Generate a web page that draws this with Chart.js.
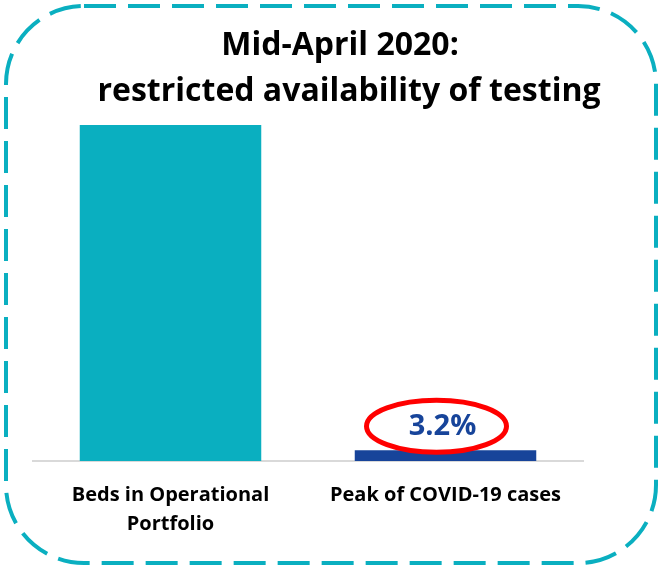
<!DOCTYPE html>
<html>
<head>
<meta charset="utf-8">
<script src="https://cdn.jsdelivr.net/npm/chart.js@4/dist/chart.umd.min.js"></script>
<style>
  html, body { margin: 0; padding: 0; background: #fff; }
  #wrap { width: 661px; height: 568px; position: relative; }
</style>
</head>
<body>
<div id="wrap"><canvas id="chart"></canvas></div>
<script>
// data
const categories = [['Beds in Operational', 'Portfolio'], 'Peak of COVID-19 cases'];
const values = [100, 3.2];
const valueLabels = ['', '3.2%'];
const titleLines = ['Mid-April 2020:', 'restricted availability of testing'];

const TEAL = '#0AAFC0';
const NAVY = '#17449A';
const FONT = "'Open Sans', 'Lato', sans-serif";

// dashed rounded frame + title
const framePlugin = {
    id: 'frame',
    beforeDraw(chart) {
        const ctx = chart.ctx;
        const x0 = 6, y0 = 6, x1 = 656, y1 = 563, r = 78;
        ctx.save();
        ctx.strokeStyle = TEAL;
        ctx.lineWidth = 4;
        ctx.setLineDash([32, 12]);
        ctx.beginPath();
        ctx.moveTo(x0 + r, y0);
        ctx.lineTo(x1 - r, y0);
        ctx.arcTo(x1, y0, x1, y0 + r, r);
        ctx.lineTo(x1, y1 - r);
        ctx.arcTo(x1, y1, x1 - r, y1, r);
        ctx.lineTo(x0 + r, y1);
        ctx.arcTo(x0, y1, x0, y1 - r, r);
        ctx.lineTo(x0, y0 + r);
        ctx.arcTo(x0, y0, x0 + r, y0, r);
        ctx.closePath();
        ctx.stroke();

        ctx.setLineDash([]);
        ctx.fillStyle = '#000';
        ctx.font = 'bold 32px ' + FONT;
        ctx.textAlign = 'center';
        ctx.textBaseline = 'middle';
        ctx.fillText(titleLines[0], 340, 46);
        ctx.fillText(titleLines[1], 349, 92);
        ctx.restore();
    }
};

// value label with red ellipse
const calloutPlugin = {
    id: 'callout',
    afterDatasetsDraw(chart) {
        const ctx = chart.ctx;
        const meta = chart.getDatasetMeta(0);
        meta.data.forEach((bar, i) => {
            if (!valueLabels[i]) return;
            const cy = bar.y - 24;
            ctx.save();
            ctx.fillStyle = NAVY;
            ctx.font = 'bold 29px ' + FONT;
            ctx.textAlign = 'center';
            ctx.textBaseline = 'middle';
            ctx.fillText(valueLabels[i], bar.x - 3, cy);
            ctx.strokeStyle = '#FF0000';
            ctx.lineWidth = 5;
            ctx.beginPath();
            ctx.ellipse(bar.x - 9, cy, 70, 26, 0, 0, Math.PI * 2);
            ctx.stroke();
            ctx.restore();
        });
    }
};

new Chart(document.getElementById('chart'), {
    type: 'bar',
    data: {
        labels: categories,
        datasets: [{
            data: values,
            backgroundColor: [TEAL, NAVY],
            borderWidth: 0,
            barPercentage: 0.66,
            categoryPercentage: 1
        }]
    },
    options: {
        responsive: true,
        maintainAspectRatio: false,
        animation: false,
        layout: { padding: { left: 33, right: 78, top: 125, bottom: 17 } },
        plugins: {
            legend: { display: false },
            tooltip: { enabled: false },
            title: { display: false }
        },
        scales: {
            y: { display: false, min: 0, max: 100 },
            x: {
                grid: { display: false },
                border: { color: '#D9D9D9', width: 2 },
                ticks: {
                    color: '#000',
                    padding: 12,
                    maxRotation: 0,
                    font: { family: FONT, size: 20, weight: 'bold', lineHeight: 1.45 }
                }
            }
        }
    },
    plugins: [framePlugin, calloutPlugin]
});
</script>
</body>
</html>
